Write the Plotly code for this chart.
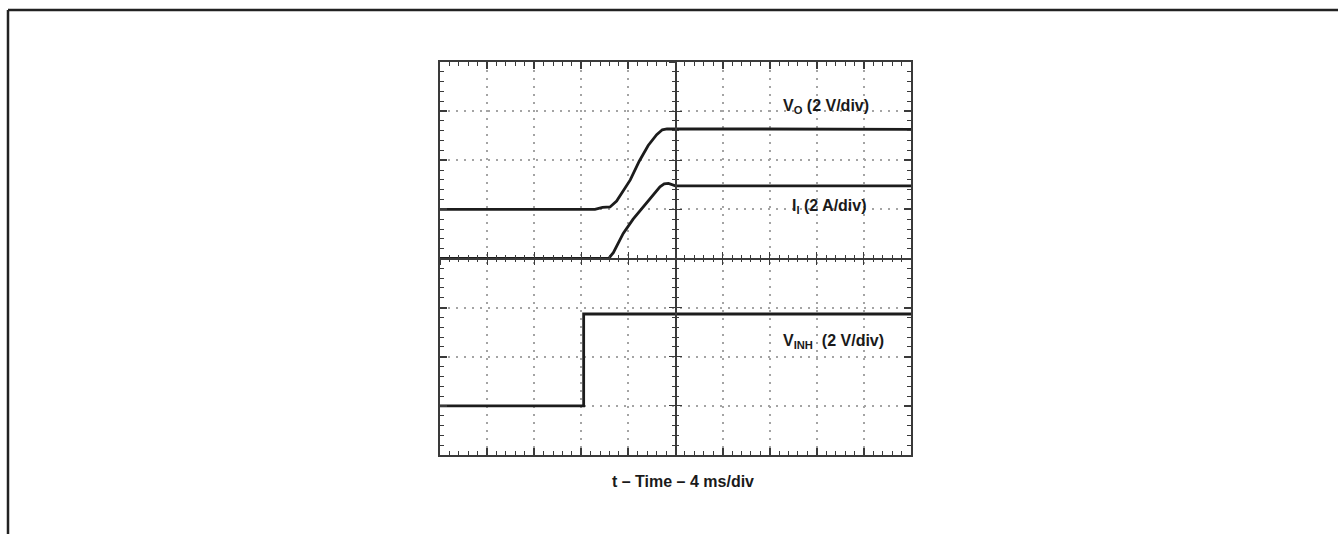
import plotly.graph_objects as go

# ---- data (time in ms, 4 ms/div; amplitude in screen divisions) ----
t_vo = [0, 13.16, 13.8, 14.44, 15.0, 15.6, 16.16, 16.92, 17.68, 18.4, 18.88, 19.28, 40]
vo = [1.0, 1.0, 1.04, 1.05, 1.17, 1.38, 1.6, 1.98, 2.3, 2.52, 2.62, 2.64, 2.63]
t_ii = [0, 14.32, 14.72, 15.56, 16.4, 17.28, 18.0, 18.68, 19.04, 19.4, 20.0, 40]
ii = [0, 0, 0.12, 0.51, 0.8, 1.05, 1.27, 1.46, 1.52, 1.53, 1.48, 1.48]
t_vinh = [0, 12.2, 12.2, 40]
vinh = [-3, -3, -1.13, -1.13]

labels = ["<b>V<sub>O</sub> (2 V/div)</b>", "<b>I<sub>I</sub> (2 A/div)</b>",
          "<b>V<sub>INH</sub>  (2 V/div)</b>"]
label_x = [28.95, 29.7, 28.95]
label_y = [3.1, 1.05, -1.69]
xtitle = "<b>t – Time – 4 ms/div</b>"

# ---- layout constants ----
W, H = 1338, 534
L, T, PW, PH = 440, 62, 471, 393
FONT = "Liberation Sans, Arial, Helvetica, sans-serif"
TRACE = "#1c1c1c"
FRAME = "#3a3a3a"
GRID = "#a4a4a4"
XR = [0, 40]
YR = [-4, 4]

fig = go.Figure()
for tx, ty in [(t_vo, vo), (t_ii, ii), (t_vinh, vinh)]:
    fig.add_trace(go.Scatter(x=tx, y=ty, mode="lines",
                             line=dict(color=TRACE, width=2.8),
                             hoverinfo="skip", showlegend=False))
# empty traces so the overlay (centre-line) axes get drawn
for xa, ya in [("x2", "y"), ("x3", "y"), ("x", "y2"), ("x", "y3")]:
    fig.add_trace(go.Scatter(x=[], y=[], xaxis=xa, yaxis=ya,
                             showlegend=False, hoverinfo="skip"))

frame_common = dict(showticklabels=False, showline=True, linecolor=FRAME,
                    linewidth=2, mirror="ticks", ticks="inside", ticklen=7,
                    tickwidth=1.5, tickcolor=FRAME, showgrid=True,
                    gridcolor=GRID, gridwidth=1.5, griddash="2px,6px",
                    zeroline=False, fixedrange=True)

center_common = dict(showticklabels=False, showline=True, linecolor=FRAME,
                     linewidth=1.6, ticklen=6, tickwidth=1.3,
                     tickcolor=FRAME, showgrid=False, zeroline=False,
                     fixedrange=True, anchor="free", position=0.5)

fig.update_layout(
    width=W, height=H,
    margin=dict(l=L, r=W - L - PW, t=T, b=H - T - PH, pad=0),
    paper_bgcolor="white", plot_bgcolor="white",
    font=dict(family=FONT, color="#1a1a1a", size=16),
    xaxis=dict(range=XR, dtick=4, tick0=0,
               minor=dict(dtick=0.8, ticks="inside", ticklen=4,
                          tickwidth=1.2, tickcolor=FRAME, showgrid=False),
               **frame_common),
    yaxis=dict(range=YR, dtick=1, tick0=0,
               minor=dict(dtick=0.2, ticks="inside", ticklen=4,
                          tickwidth=1.2, tickcolor=FRAME, showgrid=False),
               **frame_common),
    xaxis2=dict(overlaying="x", range=XR, dtick=4, tick0=0, ticks="inside",
                minor=dict(dtick=0.8, ticks="inside", ticklen=3,
                           tickwidth=1.1, tickcolor=FRAME, showgrid=False),
                **center_common),
    xaxis3=dict(overlaying="x", range=XR, dtick=4, tick0=0, ticks="outside",
                minor=dict(dtick=0.8, ticks="outside", ticklen=3,
                           tickwidth=1.1, tickcolor=FRAME, showgrid=False),
                **center_common),
    yaxis2=dict(overlaying="y", range=YR, dtick=1, tick0=0, ticks="inside",
                minor=dict(dtick=0.2, ticks="inside", ticklen=3,
                           tickwidth=1.1, tickcolor=FRAME, showgrid=False),
                **center_common),
    yaxis3=dict(overlaying="y", range=YR, dtick=1, tick0=0, ticks="outside",
                minor=dict(dtick=0.2, ticks="outside", ticklen=3,
                           tickwidth=1.1, tickcolor=FRAME, showgrid=False),
                **center_common),
)

for txt, lx, ly in zip(labels, label_x, label_y):
    fig.add_annotation(text=txt, x=lx, y=ly, xref="x", yref="y",
                       xanchor="left", yanchor="middle", showarrow=False,
                       font=dict(size=16, family=FONT, color="#1a1a1a"))

fig.add_annotation(text=xtitle, x=(683 - L) / PW, y=-(481 - T - PH) / PH,
                   xref="paper", yref="paper", xanchor="center",
                   yanchor="middle", showarrow=False,
                   font=dict(size=16, family=FONT, color="#1a1a1a"))

# outer page border (left and top edges)
bx = (8 - L) / PW
by = 1 + (T - 10) / PH
fig.add_shape(type="line", xref="paper", yref="paper", x0=bx, x1=(W - L) / PW,
              y0=by, y1=by, line=dict(color="#222222", width=2.5))
fig.add_shape(type="line", xref="paper", yref="paper", x0=bx, x1=bx,
              y0=by, y1=-(H - T - PH) / PH, line=dict(color="#222222", width=2.5))

fig.write_html("out.html")
